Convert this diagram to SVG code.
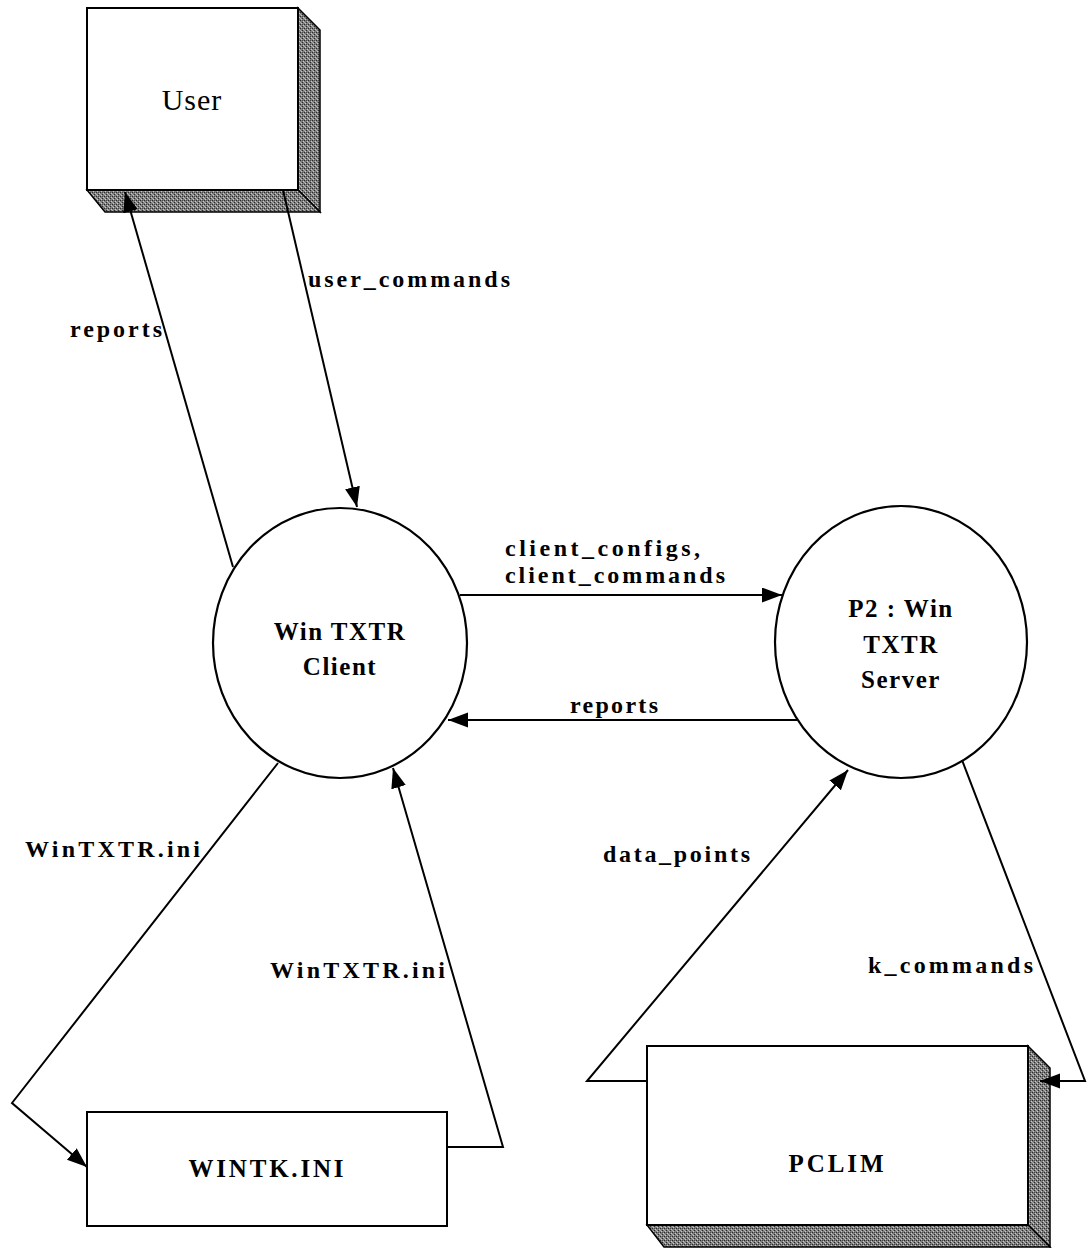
<svg xmlns="http://www.w3.org/2000/svg" width="1088" height="1248" viewBox="0 0 1088 1248">
  <style>
    .edge { fill: none; stroke: #000; stroke-width: 2; }
    .face { fill: #fff; stroke: #000; stroke-width: 2; }
    .side { fill: url(#dither); stroke: #000; stroke-width: 1.5; }
    .proc { fill: #fff; stroke: #000; stroke-width: 2.2; }
    .lbl { font-family: "Liberation Serif", "DejaVu Serif", "Times New Roman", serif; font-weight: bold; font-size: 24px; fill: #000; }
    .name { font-family: "Liberation Serif", "DejaVu Serif", "Times New Roman", serif; font-weight: bold; font-size: 25px; fill: #000; text-anchor: middle; }
  </style>
  <defs>
    <pattern id="dither" width="4" height="4" patternUnits="userSpaceOnUse">
      <rect width="4" height="4" fill="#7e7e7e"/>
      <rect x="0" y="0" width="1" height="1" fill="#2a2a2a"/>
      <rect x="2" y="2" width="1" height="1" fill="#2a2a2a"/>
      <rect x="1" y="3" width="1" height="1" fill="#c8c8c8"/>
      <rect x="3" y="1" width="1" height="1" fill="#c8c8c8"/>
      <rect x="2" y="0" width="1" height="1" fill="#4a4a4a"/>
      <rect x="0" y="2" width="1" height="1" fill="#aaaaaa"/>
    </pattern>
    <marker id="arrow" markerUnits="userSpaceOnUse" markerWidth="21" markerHeight="16" refX="20" refY="7.5" orient="auto">
      <path d="M0,0 L20,7.5 L0,15 z" fill="#000"/>
    </marker>
  </defs>

  <rect width="1088" height="1248" fill="#fff"/>

  <!-- external entity: User -->
  <g id="user">
    <polygon class="side" points="298,8 320,30 320,212 298,190"/>
    <polygon class="side" points="87,190 298,190 320,212 105,212"/>
    <rect class="face" x="87" y="8" width="211" height="182"/>
    <text x="192" y="110" text-anchor="middle" font-family="'Liberation Serif', 'DejaVu Serif', serif" font-size="30" letter-spacing="1">User</text>
  </g>

  <!-- process: client -->
  <g id="client">
    <ellipse class="proc" cx="340" cy="643" rx="127" ry="135"/>
    <text class="name" x="340" y="640" letter-spacing="1.5">Win TXTR</text>
    <text class="name" x="340" y="675" letter-spacing="1.5">Client</text>
  </g>

  <!-- process: server -->
  <g id="server">
    <ellipse class="proc" cx="901" cy="642" rx="126" ry="136"/>
    <text class="name" x="901" y="617" letter-spacing="1.5">P2 : Win</text>
    <text class="name" x="901" y="653" letter-spacing="1.5">TXTR</text>
    <text class="name" x="901" y="688" letter-spacing="1.5">Server</text>
  </g>

  <!-- data store: WINTK.INI -->
  <g id="wintk">
    <rect class="face" x="87" y="1112" width="360" height="114"/>
    <text class="name" x="266" y="1177" textLength="155" lengthAdjust="spacing">WINTK.INI</text>
  </g>

  <!-- external entity: PCLIM -->
  <g id="pclim">
    <polygon class="side" points="1028,1046 1050,1068 1050,1247 1028,1225"/>
    <polygon class="side" points="647,1225 1028,1225 1050,1247 664,1247"/>
    <rect class="face" x="647" y="1046" width="381" height="179"/>
    <text class="name" x="836" y="1172" textLength="95" lengthAdjust="spacing">PCLIM</text>
  </g>

  <!-- data flows -->
  <g id="connectors">
    <line class="edge" x1="233" y1="567" x2="125" y2="192" marker-end="url(#arrow)"/>
    <line class="edge" x1="283" y1="190" x2="357" y2="507" marker-end="url(#arrow)"/>
    <line class="edge" x1="460" y1="595" x2="782" y2="595" marker-end="url(#arrow)"/>
    <line class="edge" x1="797" y1="720" x2="448" y2="720" marker-end="url(#arrow)"/>
    <polyline class="edge" points="278,763 12,1103 87,1167" marker-end="url(#arrow)"/>
    <polyline class="edge" points="447,1147 503,1147 393,768" marker-end="url(#arrow)"/>
    <polyline class="edge" points="647,1081 587,1081 848,770" marker-end="url(#arrow)"/>
    <polyline class="edge" points="962,760 1085,1081 1040,1081" marker-end="url(#arrow)"/>

    <text class="lbl" x="70" y="337" textLength="92" lengthAdjust="spacing">reports</text>
    <text class="lbl" x="308" y="287" textLength="202" lengthAdjust="spacing">user_commands</text>
    <text class="lbl" x="505" y="556" textLength="195" lengthAdjust="spacing">client_configs,</text>
    <text class="lbl" x="505" y="583" textLength="220" lengthAdjust="spacing">client_commands</text>
    <text class="lbl" x="570" y="713" textLength="88" lengthAdjust="spacing">reports</text>
    <text class="lbl" x="25" y="857" textLength="175" lengthAdjust="spacing">WinTXTR.ini</text>
    <text class="lbl" x="270" y="978" textLength="175" lengthAdjust="spacing">WinTXTR.ini</text>
    <text class="lbl" x="603" y="862" textLength="147" lengthAdjust="spacing">data_points</text>
    <text class="lbl" x="868" y="973" textLength="165" lengthAdjust="spacing">k_commands</text>
  </g>
</svg>
